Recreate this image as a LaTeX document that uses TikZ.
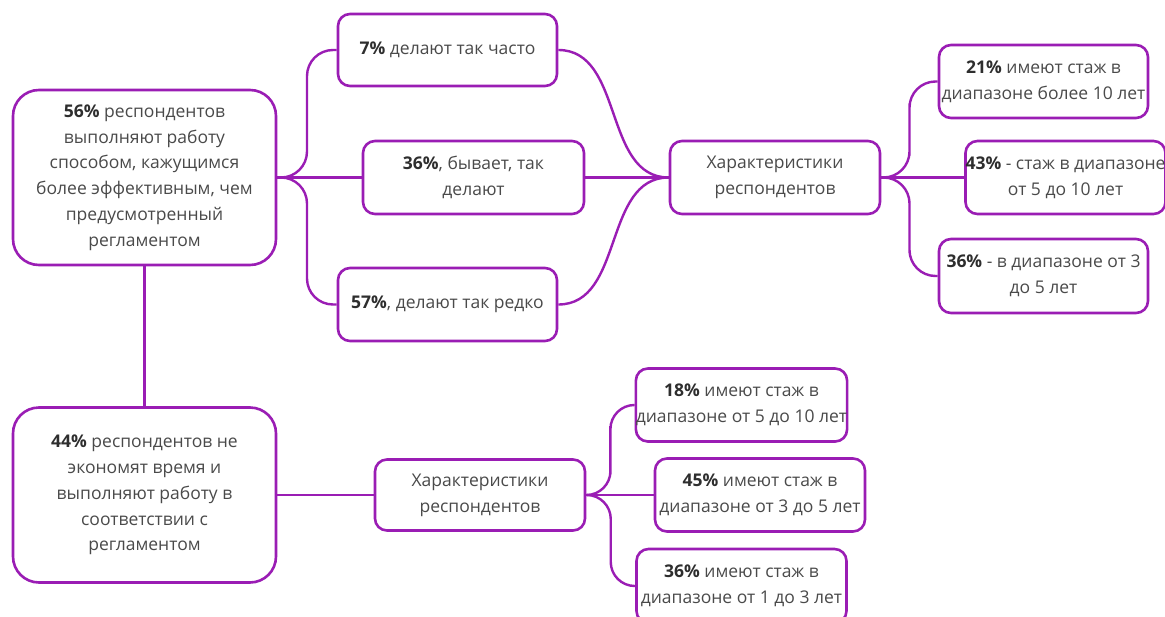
\documentclass[tikz,border=0pt]{standalone}
\usepackage{fontspec}
\setmainfont{Open Sans}
\usetikzlibrary{calc}
\definecolor{mmpurple}{HTML}{9A1DB4}
\definecolor{mmtext}{HTML}{4A4A4A}
\definecolor{mmbold}{HTML}{2E2E2E}
\newcommand{\pb}[1]{\textbf{\color{mmbold}#1}}
\begin{document}
\begin{tikzpicture}[x=1pt,y=-1pt,
  box/.style={draw=mmpurple, line width=2.6pt, fill=white, rounded corners=12pt,
    align=center, text=mmtext, font=\fontsize{17.5}{25.8}\selectfont, inner sep=0pt},
  bigbox/.style={box, rounded corners=26pt, minimum width=263pt, minimum height=175pt},
  smallbox/.style={box, minimum width=#1, minimum height=73pt},
  smallbox/.default=210pt,
  link/.style={draw=mmpurple, line width=2.4pt},
  bracket/.style={link, rounded corners=26pt},
  sbracket/.style={link, rounded corners=24pt},
]
\useasboundingbox (0,0) rectangle (1165,616);
\fill[white] (0,0) rectangle (1165,616);

\node[bigbox] (A) at (144.5,177.5) {\pb{56\%} респондентов\\выполняют работу\\способом, кажущимся\\более эффективным, чем\\предусмотренный\\регламентом};
\node[smallbox=219pt, minimum height=72pt] (B1) at (447.5,50) {\pb{7\%} делают так часто};
\node[smallbox=221pt] (B2) at (473.5,177.5) {\pb{36\%}, бывает, так\\делают};
\node[smallbox=219pt] (B3) at (447.5,304.5) {\pb{57\%}, делают так редко};
\node[smallbox=210pt] (C) at (775,177.5) {Характеристики\\респондентов};
\node[smallbox=209pt] (D1) at (1043.5,81.5) {\pb{21\%} имеют стаж в\\диапазоне более 10 лет};
\node[smallbox=199pt] (D2) at (1065.5,177.5) {\pb{43\%} - стаж в диапазоне\\от 5 до 10 лет};
\node[smallbox=209pt, minimum height=74pt] (D3) at (1043.5,276) {\pb{36\%} - в диапазоне от 3\\до 5 лет};

\node[bigbox] (E) at (144.5,495) {\pb{44\%} респондентов не\\экономят время и\\выполняют работу в\\соответствии с\\регламентом};
\node[smallbox=210pt, minimum height=71pt] (F) at (480,495) {Характеристики\\респондентов};
\node[smallbox=210pt] (G1) at (741.5,405) {\pb{18\%} имеют стаж в\\диапазоне от 5 до 10 лет};
\node[smallbox=210pt] (G2) at (760,495) {\pb{45\%} имеют стаж в\\диапазоне от 3 до 5 лет};
\node[smallbox=210pt, minimum height=74pt] (G3) at (741.5,586) {\pb{36\%} имеют стаж в\\диапазоне от 1 до 3 лет};

% midpoints for brackets
\path (A.east) -- (B1.west) coordinate[pos=.5] (mAB1);
\path (A.east) -- (B3.west) coordinate[pos=.5] (mAB3);
\path (C.east) -- (D1.west) coordinate[pos=.5] (mCD1);
\path (C.east) -- (D3.west) coordinate[pos=.5] (mCD3);
\path (F.east) -- (G1.west) coordinate[pos=.5] (mFG1);
\path (F.east) -- (G3.west) coordinate[pos=.5] (mFG3);

\draw[bracket] (A.east) -| (mAB1) |- (B1.west);
\draw[bracket] (A.east) -| (mAB3) |- (B3.west);
\draw[link] (A.east) -- (B2.west);

\draw[link] (B1.east) to[out=0,in=180] (C.west);
\draw[link] (B2.east) -- (C.west);
\draw[link] (B3.east) to[out=0,in=180] (C.west);

\draw[bracket] (C.east) -| (mCD1) |- (D1.west);
\draw[bracket] (C.east) -| (mCD3) |- (D3.west);
\draw[link] (C.east) -- (D2.west);

\draw[link] (A.south) -- (E.north);
\draw[link] (E.east) -- (F.west);

\draw[sbracket] (F.east) -| (mFG1) |- (G1.west);
\draw[sbracket] (F.east) -| (mFG3) |- (G3.west);
\draw[link] (F.east) -- (G2.west);
\end{tikzpicture}
\end{document}
